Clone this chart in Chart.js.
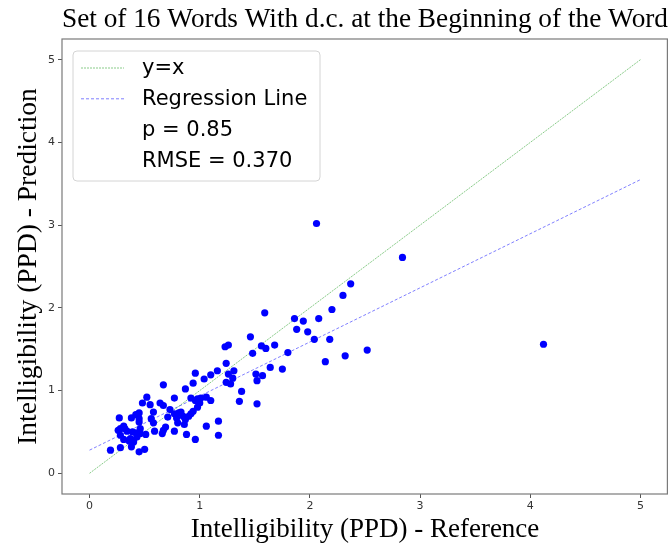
<!DOCTYPE html>
<html>
<head>
<meta charset="utf-8">
<title>Intelligibility scatter</title>
<script src="https://cdn.jsdelivr.net/npm/chart.js@4.4.0/dist/chart.umd.min.js"></script>
<style>
  html, body { margin: 0; padding: 0; background: #fff; }
</style>
</head>
<body>
<canvas id="myChart" width="668" height="548"></canvas>
<script>
// Intelligibility (PPD): reference vs prediction, one value per word recording
const refX = [
  0.52, 0.48, 0.55, 0.58, 0.45, 0.42, 0.38, 0.45, 0.27, 0.56,
  0.58, 0.45, 0.59, 0.31, 0.28, 0.32, 0.26, 0.34, 0.39, 0.46,
  0.42, 0.46, 0.51, 0.28, 0.31, 0.37, 0.40, 0.43, 0.36, 0.40,
  0.28, 0.38, 0.19, 0.45, 0.50,
  1.23, 1.26, 1.24, 1.16, 1.31, 1.26, 1.10, 1.04, 0.96, 1.30,
  1.24, 1.28, 0.94, 0.67, 0.87, 0.77, 0.92, 0.96, 0.98, 1.01,
  1.06, 1.10, 1.00, 0.98, 0.94, 0.92, 0.90, 0.85, 0.81, 0.83,
  0.77, 0.73, 0.67, 0.64, 0.79, 0.71, 0.87, 0.80, 0.86, 0.69,
  0.67, 0.66, 0.77, 1.06, 1.17, 1.17, 0.88, 0.96, 1.36, 1.38,
  2.06, 2.84, 2.37, 2.30, 2.20, 1.59, 1.86, 1.94, 2.08, 1.88,
  1.98, 1.46, 2.04, 2.18, 1.56, 1.60, 1.68, 1.48, 1.80, 2.52,
  2.32, 2.14, 1.64, 1.75, 1.51, 1.57, 1.52, 1.52, 4.12
];
const predY = [
  0.92, 0.85, 0.83, 0.74, 0.73, 0.71, 0.67, 0.66, 0.67, 0.66,
  0.61, 0.62, 0.51, 0.57, 0.54, 0.54, 0.52, 0.51, 0.50, 0.54,
  0.49, 0.48, 0.47, 0.46, 0.41, 0.42, 0.40, 0.44, 0.39, 0.38,
  0.31, 0.32, 0.28, 0.26, 0.29,
  1.53, 1.55, 1.33, 1.24, 1.24, 1.20, 1.19, 1.14, 1.21, 1.15,
  1.10, 1.08, 1.09, 1.07, 1.02, 0.91, 0.91, 0.88, 0.90, 0.91,
  0.92, 0.88, 0.85, 0.80, 0.75, 0.72, 0.69, 0.69, 0.73, 0.74,
  0.72, 0.77, 0.82, 0.85, 0.67, 0.68, 0.65, 0.61, 0.59, 0.56,
  0.52, 0.48, 0.51, 0.57, 0.63, 0.46, 0.47, 0.41, 0.87, 0.99,
  3.02, 2.61, 2.29, 2.15, 1.98, 1.94, 1.87, 1.84, 1.87, 1.74,
  1.71, 1.65, 1.62, 1.62, 1.54, 1.51, 1.55, 1.45, 1.46, 1.49,
  1.42, 1.35, 1.28, 1.26, 1.20, 1.18, 1.12, 0.84, 1.56
];

// reference lines, both drawn over x = 0..5
const lineX = [0, 5];
const identityY = [0, 5];
const regressionY = [0.28, 3.55];

const tickVals = [0, 1, 2, 3, 4, 5];
const legendLines = ['y=x', 'Regression Line'];
const legendStats = ['p = 0.85', 'RMSE = 0.370'];

const serif = "'Liberation Serif', 'Times New Roman', serif";
const sans = "'DejaVu Sans', sans-serif";

const greenLine = 'rgba(40, 160, 40, 0.55)';
const blueLine = 'rgba(0, 0, 255, 0.5)';

// box around the plotting area (all four sides)
const frame = {
  id: 'frame',
  afterDatasetsDraw(chart) {
    const a = chart.chartArea;
    const ctx = chart.ctx;
    ctx.save();
    ctx.strokeStyle = '#7a7a7a';
    ctx.lineWidth = 1.2;
    ctx.strokeRect(a.left, a.top, a.right - a.left - 0.6, a.bottom - a.top);
    ctx.restore();
  }
};

// legend box in the upper left corner, two line keys and two stat rows
const statsLegend = {
  id: 'statsLegend',
  afterDraw(chart) {
    const a = chart.chartArea;
    const ctx = chart.ctx;
    const x0 = a.left + 11, y0 = a.top + 12, w = 247, h = 130;
    ctx.save();
    ctx.beginPath();
    ctx.roundRect(x0, y0, w, h, 4);
    ctx.fillStyle = 'rgba(255,255,255,0.85)';
    ctx.fill();
    ctx.strokeStyle = '#d4d4d4';
    ctx.lineWidth = 1;
    ctx.stroke();

    const rows = legendLines.concat(legendStats);
    const styles = [
      { color: greenLine, dash: [2, 1] },
      { color: blueLine, dash: [3, 2] }
    ];
    ctx.font = '21px ' + sans;
    ctx.textBaseline = 'middle';
    ctx.fillStyle = '#000';
    rows.forEach((txt, i) => {
      const cy = y0 + 17 + i * 30.8;
      if (styles[i]) {
        ctx.beginPath();
        ctx.setLineDash(styles[i].dash);
        ctx.strokeStyle = styles[i].color;
        ctx.lineWidth = 1;
        ctx.moveTo(x0 + 8, cy);
        ctx.lineTo(x0 + 51, cy);
        ctx.stroke();
        ctx.setLineDash([]);
      }
      ctx.fillText(txt, x0 + 69, cy + 1);
    });
    ctx.restore();
  }
};

const ctx = document.getElementById('myChart');

new Chart(ctx, {
  type: 'scatter',
  data: {
    datasets: [
      {
        label: 'words',
        data: refX.map((v, i) => ({ x: v, y: predY[i] })),
        backgroundColor: '#0000ff',
        borderWidth: 0,
        pointRadius: 3.6,
        pointHoverRadius: 3.6
      },
      {
        type: 'line',
        label: legendLines[0],
        data: lineX.map((v, i) => ({ x: v, y: identityY[i] })),
        borderColor: greenLine,
        borderWidth: 1,
        borderDash: [2, 1],
        pointRadius: 0,
        fill: false
      },
      {
        type: 'line',
        label: legendLines[1],
        data: lineX.map((v, i) => ({ x: v, y: regressionY[i] })),
        borderColor: blueLine,
        borderWidth: 1,
        borderDash: [3, 2],
        pointRadius: 0,
        fill: false
      }
    ]
  },
  options: {
    responsive: false,
    animation: false,
    events: [],
    layout: { padding: 0, autoPadding: false },
    plugins: {
      legend: { display: false },
      tooltip: { enabled: false },
      title: {
        display: true,
        text: 'Set of 16 Words With d.c. at the Beginning of the Word',
        color: '#000',
        font: { family: serif, size: 28, weight: 'normal' },
        padding: { top: 3, bottom: 2.4 },
        fullSize: false
      }
    },
    scales: {
      x: {
        type: 'linear',
        min: -0.25,
        max: 5.25,
        afterBuildTicks: (scale) => { scale.ticks = tickVals.map(v => ({ value: v })); },
        afterFit: (scale) => {
          scale.height = 54;
          scale.paddingLeft = 0;
          scale.paddingRight = 0;
        },
        grid: { drawOnChartArea: false, drawTicks: true, tickLength: 4, color: '#555' },
        border: { display: false },
        ticks: { color: '#333', font: { family: sans, size: 11 }, padding: 2, maxRotation: 0 },
        title: {
          display: true,
          text: 'Intelligibility (PPD) - Reference',
          color: '#000',
          font: { family: serif, size: 27, weight: 'normal' },
          padding: { top: 0, bottom: 2 }
        }
      },
      y: {
        type: 'linear',
        min: -0.25,
        max: 5.25,
        afterBuildTicks: (scale) => { scale.ticks = tickVals.map(v => ({ value: v })); },
        afterFit: (scale) => { scale.width = 62; },
        grid: { drawOnChartArea: false, drawTicks: true, tickLength: 4, color: '#555' },
        border: { display: false },
        ticks: { color: '#333', font: { family: sans, size: 11 }, padding: 3 },
        title: {
          display: true,
          text: 'Intelligibility (PPD) - Prediction',
          color: '#000',
          font: { family: serif, size: 27.5, weight: 'normal' },
          padding: { top: 12, bottom: 0 }
        }
      }
    }
  },
  plugins: [frame, statsLegend]
});
</script>
</body>
</html>
